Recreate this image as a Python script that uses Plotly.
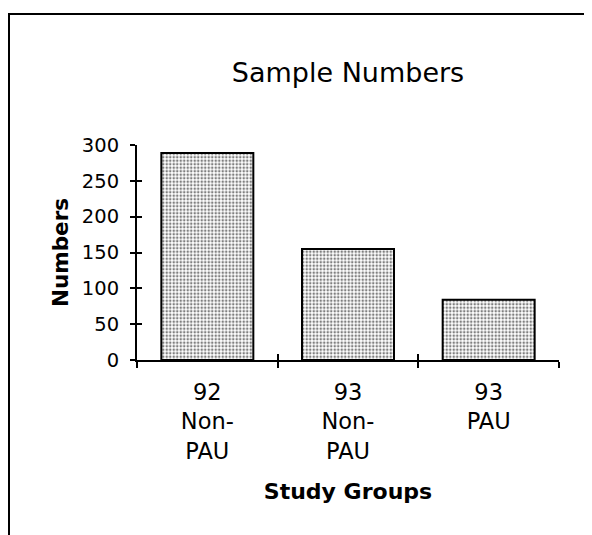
import plotly.graph_objects as go

categories = ["92<br>Non-<br>PAU", "93<br>Non-<br>PAU", "93<br>PAU"]
sample_numbers = [289, 155, 84]
y_ticks = [0, 50, 100, 150, 200, 250, 300]

title_text = "Sample Numbers"
x_title = "Study Groups"
y_title = "Numbers"

# page is rendered with an 8px body margin: work in figure coordinates
OFF = 8
W, H = 592, 535
L, T = 137 - OFF, 145 - OFF
pw, ph = 422, 215
R, B = W - L - pw, H - T - ph

fig = go.Figure()
fig.add_trace(go.Bar(
    x=categories, y=sample_numbers,
    marker=dict(color="white",
                line=dict(color="black", width=2),
                pattern=dict(shape=".", size=3.5, solidity=0.42,
                             fgcolor="black", bgcolor="white")),
    showlegend=False, hoverinfo="skip",
))
# empty helper trace so the overlay axes (inside tick halves) are drawn
fig.add_trace(go.Scatter(x=[], y=[], xaxis="x2", yaxis="y2", showlegend=False))

font_reg = "DejaVu Sans, sans-serif"
font_bold = "DejaVu Sans, sans-serif"

fig.update_layout(
    width=W, height=H,
    margin=dict(l=L, r=R, t=T, b=B),
    paper_bgcolor="white", plot_bgcolor="white",
    bargap=0.346,
    title=dict(text=title_text, x=0.5, xref="paper", xanchor="center",
               y=1 - (73 - OFF) / H, yref="container", yanchor="middle",
               font=dict(family=font_reg, size=27, color="black")),
    xaxis=dict(
        type="category", range=[-0.5, 2.5],
        showline=True, linecolor="black", linewidth=2,
        ticks="outside", ticklen=6, tickwidth=1.5, tickcolor="black",
        tickson="boundaries",
        showgrid=False, zeroline=False,
        tickfont=dict(family=font_reg, size=22.5, color="black"),
        ticklabelstandoff=11,
        title=dict(text=x_title, standoff=21,
                   font=dict(family=font_bold, size=22, color="black", weight="bold")),
        fixedrange=True,
    ),
    yaxis=dict(
        range=[0, 300], tickvals=y_ticks,
        showline=True, linecolor="black", linewidth=2,
        ticks="outside", ticklen=5, tickwidth=1.5, tickcolor="black",
        showgrid=False, zeroline=False,
        tickfont=dict(family=font_reg, size=19.5, color="black"),
        ticklabelstandoff=7,
        title=dict(text=y_title, standoff=7,
                   font=dict(family=font_bold, size=21.5, color="black", weight="bold")),
        fixedrange=True,
    ),
    xaxis2=dict(
        overlaying="x", anchor="y2", side="bottom", range=[-0.5, 2.5],
        tickvals=[0.5, 1.5, 2.5], ticks="inside", ticklen=6, tickwidth=1.5,
        tickcolor="black", showticklabels=False, showline=False,
        showgrid=False, zeroline=False, fixedrange=True,
    ),
    yaxis2=dict(
        overlaying="y", anchor="x2", side="left", range=[0, 300],
        tickvals=y_ticks, ticks="inside", ticklen=5, tickwidth=1.5,
        tickcolor="black", showticklabels=False, showline=False,
        showgrid=False, zeroline=False, fixedrange=True,
    ),
    shapes=[dict(
        type="rect", xref="paper", yref="paper", layer="below",
        x0=(1 - L) / pw, x1=(W + 10 - L) / pw,
        y0=(T + ph - (H + 10)) / ph, y1=(T + ph - (14 - OFF)) / ph,
        line=dict(color="black", width=2), fillcolor="rgba(0,0,0,0)",
    )],
)

fig.write_html("out.html")
